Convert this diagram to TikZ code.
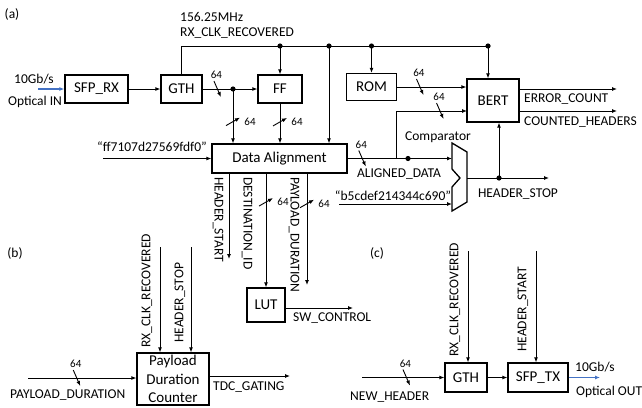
\documentclass[tikz,border=0pt]{standalone}
\usepackage{fontspec}
\setmainfont{Carlito}
\usepackage{tikz}
\usetikzlibrary{arrows.meta,calc}
\definecolor{fiberblue}{HTML}{4472C4}

\tikzset{
  blk/.style={draw,line width=1.3pt,inner sep=1pt,font=\fontsize{15}{18.5}\selectfont},
  wire/.style={line width=0.9pt},
  arr/.style={wire,-{Latex[length=5pt,width=4pt]}},
  fiber/.style={line width=1.2pt,fiberblue,-{Latex[length=5pt,width=4pt]}},
  lbl/.style={inner sep=0pt,font=\fontsize{13.5}{16}\selectfont},
  num/.style={inner sep=0pt,font=\fontsize{11}{13}\selectfont},
  hbus/.pic={\draw[wire] (-3.5,-8)--(3.5,8); \node[num] (-n) at (-1,-14) {64};},
  vbus/.pic={\draw[wire] (-7,4)--(7,-4); \node[num] (-n) at (17,0) {64};},
}
\newcommand{\junc}[1]{\fill (#1) circle (2.6pt);}

\begin{document}
\begin{tikzpicture}[x=1pt,y=-1pt]
\useasboundingbox (0,0) rectangle (642,407);

% (a) receive path, alignment and BERT
\node[lbl] (taga) at (12,14) {(a)};
\node[blk,minimum width=63pt,minimum height=28pt] (sfprx) at (96.5,89) {SFP\_RX};
\node[blk,minimum width=41pt,minimum height=28pt] (gthrx) at (181.5,89) {GTH};
\node[blk,minimum width=44pt,minimum height=28pt] (ff) at (280,89) {FF};
\node[blk,minimum width=50pt,minimum height=27pt] (rom) at (371.5,87) {ROM};
\node[blk,minimum width=52pt,minimum height=43pt] (bert) at (493,100.5) {BERT};
\node[blk,minimum width=135pt,minimum height=29pt] (align) at (279.5,158.5) {Data Alignment};
\node[blk,minimum width=38pt,minimum height=34pt] (lut) at (266,305) {LUT};

\coordinate (optin) at (38,89);
\draw[fiber] (optin) -- (sfprx.west);
\node[lbl] (rxrate) at (34,79) {10Gb/s};
\node[lbl] (rxopt) at (35,102) {Optical IN};

\draw[arr] (sfprx) -- (gthrx);
\coordinate (ffin) at (233,89);
\draw[arr] (gthrx.east) -- pic[pos=.27] (b1) {hbus} (ff.west);
\junc{ffin}
\draw[arr] (ffin) -- pic[pos=.6] (b2) {vbus} (ffin |- align.north);
\draw[arr] (ff.south) -- pic[pos=.46] (b3) {vbus} (ff.south |- align.north);

% recovered clock
\node[lbl,anchor=west] (clkfreq) at (180,17) {156.25MHz};
\node[lbl,anchor=west] (clkname) at (180,33) {RX\_CLK\_RECOVERED};
\coordinate (clkend) at (488,46);
\coordinate (clkff) at (280,46);
\coordinate (clkal) at (329,46);
\coordinate (clkrom) at (371.5,46);
\draw[arr] (gthrx.north) |- (clkend) -- (clkend |- bert.north);
\draw[arr] (clkff) -- (ff.north);
\draw[arr] (clkal) -- (clkal |- align.north);
\draw[arr] (clkrom) -- (rom.north);
\foreach \c in {clkff,clkal,clkrom,clkend} {\junc{\c}}

\coordinate (seedin) at (103,158.5);
\draw[arr] (seedin) -- (align.west);
\node[lbl] (seed) at (152,147) {“ff7107d27569fdf0”};

\draw[arr] (rom.east) -- pic[pos=.33] (b4) {hbus} (rom.east -| bert.west);

% comparator
\coordinate (cmpa) at (452,158.5);
\coordinate (cmpb) at (452,204);
\coordinate (cmpo) at (467,178);
\draw[line width=1.3pt] (452,143) -- (467,152) -- (467,202) -- (452,211)
  -- (452,187) -- (460,178) -- (452,169) -- cycle;
\node[lbl] (cmplbl) at (438,137) {Comparator};
\coordinate (tap) at (396,158.5);
\coordinate (adot) at (408,158.5);
\coordinate (bertin) at (467,111);
\draw[arr] (align.east) -- pic[pos=.14] (b5) {hbus} (cmpa);
\draw[arr] (tap) |- pic[pos=.81] (b6) {hbus} (bertin);
\junc{adot}
\node[lbl] (aligned) at (399,174) {ALIGNED\_DATA};
\coordinate (refin) at (339,204);
\draw[arr] (refin) -- (cmpb);
\node[lbl] (refword) at (393,196) {“b5cdef214344c690”};

\coordinate (hsend) at (549,178);
\coordinate (hsdot) at (499,178);
\draw[arr] (cmpo) -- (hsend);
\draw[arr] (hsdot) -- (hsdot |- bert.south);
\junc{hsdot}
\node[lbl] (hstop) at (518,194) {HEADER\_STOP};

\coordinate (errend) at (617,89);
\coordinate (cntend) at (617,111);
\draw[arr] (errend -| bert.east) -- (errend);
\draw[arr] (cntend -| bert.east) -- (cntend);
\node[lbl,anchor=west] (errcnt) at (524,99) {ERROR\_COUNT};
\node[lbl,anchor=west] (cnthdr) at (524,122) {COUNTED\_HEADERS};

% fields split off the aligned frame
\coordinate (hsout) at (229,259);
\coordinate (pdout) at (307,285);
\draw[arr] (hsout |- align.south) -- (hsout);
\draw[arr] (lut.north |- align.south) -- pic[pos=.25] (b7) {vbus} (lut.north);
\draw[arr] (pdout |- align.south) -- pic[pos=.27] (b8) {vbus} (pdout);
\node[lbl,rotate=-90,anchor=west] (hstart) at (218,177) {HEADER\_START};
\node[lbl,rotate=-90,anchor=west] (destid) at (247,177) {DESTINATION\_ID};
\node[lbl,rotate=-90,anchor=west] (pdur) at (294,177) {PAYLOAD\_DURATION};

\coordinate (swend) at (353,308);
\draw[arr] (swend -| lut.east) -- (swend);
\node[lbl,anchor=west] (swctl) at (293,318) {SW\_CONTROL};

% (b) payload duration counter
\node[lbl] (tagb) at (15,253) {(b)};
\node[blk,align=center,minimum width=72pt,minimum height=52pt,inner sep=0pt]
  (pdc) at (173,379) {Payload\\Duration\\Counter};
\coordinate (bclk) at (160,247);
\coordinate (bhs) at (191,247);
\draw[arr] (bclk) -- (bclk |- pdc.north);
\draw[arr] (bhs) -- (bhs |- pdc.north);
\node[lbl,rotate=90,anchor=west] (bclklbl) at (147,348) {RX\_CLK\_RECOVERED};
\node[lbl,rotate=90,anchor=west] (bhslbl) at (180,343) {HEADER\_STOP};
\coordinate (bpd) at (28,378);
\draw[arr] (bpd) -- pic[pos=.45] (b9) {hbus} (bpd -| pdc.west);
\node[lbl,anchor=west] (bpdlbl) at (10,395) {PAYLOAD\_DURATION};
\coordinate (tdcend) at (290,376);
\draw[arr] (tdcend -| pdc.east) -- (tdcend);
\node[lbl,anchor=west] (tdc) at (213,387) {TDC\_GATING};

% (c) header transmit path
\node[lbl] (tagc) at (377,253) {(c)};
\node[blk,minimum width=42pt,minimum height=29pt] (gthtx) at (466,377.5) {GTH};
\node[blk,minimum width=60pt,minimum height=29pt] (sfptx) at (538,377.5) {SFP\_TX};
\draw[arr] (gthtx) -- (sfptx);
\coordinate (nhin) at (362,377.5);
\draw[arr] (nhin) -- pic[pos=.54] (b10) {hbus} (gthtx.west);
\node[lbl,anchor=west] (nhlbl) at (350,397) {NEW\_HEADER};
\coordinate (cclk) at (468,251);
\coordinate (chs) at (536,251);
\draw[arr] (cclk) -- (cclk |- gthtx.north);
\draw[arr] (chs) -- (chs |- sfptx.north);
\node[lbl,rotate=90,anchor=west] (cclklbl) at (455,357) {RX\_CLK\_RECOVERED};
\node[lbl,rotate=90,anchor=west] (chslbl) at (523,352) {HEADER\_START};
\coordinate (optout) at (600,377.5);
\draw[fiber] (sfptx.east) -- (optout);
\node[lbl,anchor=west] (txrate) at (575,367) {10Gb/s};
\node[lbl,anchor=west] (txopt) at (576,392) {Optical OUT};
\end{tikzpicture}
\end{document}
